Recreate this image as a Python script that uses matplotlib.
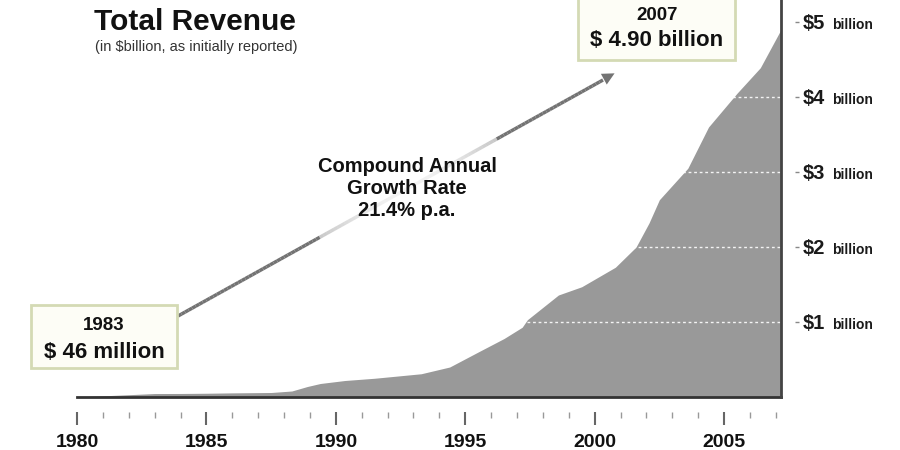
import numpy as np
import matplotlib
matplotlib.use("Agg")
import matplotlib.pyplot as plt
import matplotlib.transforms as mtrans
from matplotlib.patches import Rectangle, FancyArrowPatch
from matplotlib.collections import LineCollection

plt.rcParams['font.family'] = ['Liberation Sans', 'DejaVu Sans']

# --- data ($ billion) ---
years = [1980, 1983, 1984, 1985, 1986, 1987.5, 1988.3, 1988.9, 1989.4, 1990.35,
         1991.5, 1993.3, 1994.4, 1995.5, 1996.5, 1997.2, 1997.4, 1998.6, 1999.5,
         2000.8, 2001.6, 2002.1, 2002.5, 2003.6, 2004.4, 2005.5, 2006.4, 2007.2]
revenue = [0.0, 0.046, 0.047, 0.05, 0.055, 0.06, 0.08, 0.14, 0.18, 0.22,
           0.25, 0.31, 0.40, 0.60, 0.78, 0.93, 1.03, 1.36, 1.47,
           1.73, 2.00, 2.32, 2.63, 3.05, 3.60, 4.05, 4.39, 4.90]

major_years = [1980, 1985, 1990, 1995, 2000, 2005]
minor_years = list(range(1980, 2008))
y_levels = [1, 2, 3, 4, 5]
y_labels = ['$1', '$2', '$3', '$4', '$5']

title = 'Total Revenue'
subtitle = '(in $billion, as initially reported)'
start_box = ['1983', '$ 46 million']
end_box = ['2007', '$ 4.90 billion']
cagr_text = 'Compound Annual\nGrowth Rate\n21.4% p.a.'

W, H = 900, 450


def px(x, y):
    # pixel position (from top-left) -> figure fraction
    return x / W, 1 - y / H


fig = plt.figure(figsize=(9, 4.5), dpi=100)
fig.patch.set_facecolor('white')
ax = fig.add_axes([77 / W, 1 - 397 / H, (781 - 77) / W, 397 / H])
ax.set_xlim(1980, 2007.2)
ax.set_ylim(0, 397 / 75)

area = ax.fill_between(years, 0, revenue, color='#999999', lw=0, zorder=1)
clip = area.get_paths()[0]
for v in y_levels[:4]:
    gl = ax.axhline(v, color='white', lw=1, ls=(0, (2, 2)), alpha=0.9, zorder=2)
    gl.set_clip_path(clip, ax.transData)

ax.axhline(0, color='#333333', lw=2, zorder=3, clip_on=False)
ax.axvline(2007.2, color='#444444', lw=2, zorder=3, clip_on=False)

for s in ['top', 'left']:
    ax.spines[s].set_visible(False)
ax.spines['bottom'].set_position(('outward', 11))
ax.spines['bottom'].set_visible(False)
ax.spines['right'].set_position(('outward', 10))
ax.spines['right'].set_visible(False)

ax.set_xticks(major_years)
ax.set_xticks(minor_years, minor=True)
ax.set_xticklabels([str(y) for y in major_years], fontsize=14, fontweight='bold',
                   color='#111111')
ax.tick_params(axis='x', which='major', length=9, width=1.5, color='#666666',
               direction='out', pad=6.5)
ax.tick_params(axis='x', which='minor', length=4, width=1, color='#999999',
               direction='out')

ax.yaxis.tick_right()
ax.set_yticks(y_levels)
ax.set_yticklabels([])
ax.tick_params(axis='y', length=3, width=1, color='#888888', direction='out')

# right-hand labels: "$N" big, "billion" small
for v, lab in zip(y_levels, y_labels):
    tr = mtrans.offset_copy(ax.get_yaxis_transform(), fig=fig, x=22, y=-7, units='dots')
    ax.text(1, v, lab, transform=tr, fontsize=14.5, fontweight='bold',
            ha='left', va='baseline', color='#1a1a1a')
    tr2 = mtrans.offset_copy(ax.get_yaxis_transform(), fig=fig, x=51, y=-7, units='dots')
    ax.text(1, v, 'billion', transform=tr2, fontsize=10, fontweight='bold',
            ha='left', va='baseline', color='#1a1a1a')

# title
fig.text(*px(94, 8), title, fontsize=21.5, fontweight='bold', ha='left', va='top',
         color='#111111')
fig.text(*px(95, 40), subtitle, fontsize=10.5, ha='left', va='top', color='#333333')

# annotation boxes
for (x0, y0, x1, y1) in [(31, 305, 177, 368), (578, -5, 735, 60)]:
    fx0, fy1 = px(x0, y0)
    fx1, fy0 = px(x1, y1)
    fig.patches.append(Rectangle((fx0, fy0), fx1 - fx0, fy1 - fy0, transform=fig.transFigure,
                                 facecolor='#fdfdf6', edgecolor='#d4dab4', lw=2, zorder=5))
fig.text(*px(104, 325), start_box[0], fontsize=13.5, fontweight='bold', ha='center',
         va='center', zorder=6, color='#111111')
fig.text(*px(104, 352), start_box[1], fontsize=16, fontweight='bold', ha='center',
         va='center', zorder=6, color='#111111')
fig.text(*px(657, 15), end_box[0], fontsize=13.5, fontweight='bold', ha='center',
         va='center', zorder=6, color='#111111')
fig.text(*px(657, 41), end_box[1], fontsize=16, fontweight='bold', ha='center',
         va='center', zorder=6, color='#111111')

# growth arrow, fading behind the text
p0 = np.array(px(178, 316))
p1 = np.array(px(603, 80))
n = 120
t = np.linspace(0, 1, n + 1)
pts = p0 + np.outer(t, p1 - p0)
segs = np.stack([pts[:-1], pts[1:]], axis=1)
tm = (t[:-1] + t[1:]) / 2
alpha = np.ones(n)
mid = (tm > 0.33) & (tm < 0.75)
alpha[mid] = 0.4 - 0.32 * np.sin(np.pi * (tm[mid] - 0.33) / 0.42)
cols = [(0.45, 0.45, 0.45, a) for a in alpha]
fig.add_artist(LineCollection(segs, colors=cols, linewidths=2.5, transform=fig.transFigure))
fig.add_artist(FancyArrowPatch(px(595, 84), px(617, 72), transform=fig.transFigure,
                               arrowstyle='-|>', mutation_scale=22, color='#737373', lw=0))

fig.text(*px(407, 189), cagr_text, fontsize=14.5, fontweight='bold', ha='center',
         va='center', linespacing=1.2, color='#111111')

fig.savefig('out.png', dpi=100, facecolor='white')
